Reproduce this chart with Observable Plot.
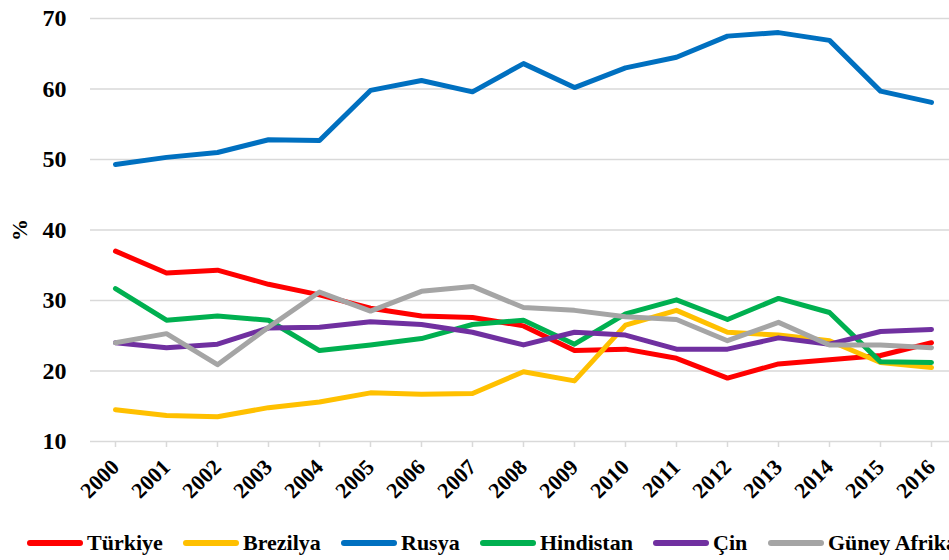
<!DOCTYPE html>
<html>
<head>
<meta charset="utf-8">
<script src="https://cdn.jsdelivr.net/npm/d3@7"></script>
<script src="https://cdn.jsdelivr.net/npm/@observablehq/plot@0.6"></script>
<style>
  html, body { margin: 0; padding: 0; background: #fff; }
  #chart { position: relative; width: 949px; height: 560px; overflow: hidden; }
  #legend { position: absolute; left: 0; top: 528px; width: 949px; height: 32px; font-family: "Liberation Serif", "DejaVu Serif", serif; font-weight: bold; font-size: 22px; color: #000; }
  .item { position: absolute; top: 0; height: 30px; display: flex; align-items: center; white-space: nowrap; }
  .sw { width: 56px; height: 6px; border-radius: 3px; margin-right: 4px; }
  svg text { font-family: "Liberation Serif", "DejaVu Serif", serif !important; }
</style>
</head>
<body>
<div id="chart"><div id="legend"></div></div>
<script>
const years = [2000, 2001, 2002, 2003, 2004, 2005, 2006, 2007, 2008, 2009, 2010, 2011, 2012, 2013, 2014, 2015, 2016];
const countries = ["Türkiye", "Brezilya", "Rusya", "Hindistan", "Çin", "Güney Afrika"];
const colors = ["#FF0000", "#FFC000", "#0070C0", "#00B050", "#7030A0", "#A5A5A5"];
const yTicks = [10, 20, 30, 40, 50, 60, 70];

const turkiye    = [37.0, 33.9, 34.3, 32.3, 30.8, 28.9, 27.8, 27.6, 26.4, 22.9, 23.1, 21.8, 19.0, 21.0, 21.6, 22.2, 24.0];
const brezilya   = [14.5, 13.7, 13.5, 14.8, 15.6, 16.9, 16.7, 16.8, 19.9, 18.6, 26.5, 28.6, 25.5, 25.1, 24.3, 21.2, 20.5];
const rusya      = [49.3, 50.3, 51.0, 52.8, 52.7, 59.8, 61.2, 59.6, 63.6, 60.2, 63.0, 64.5, 67.5, 68.0, 66.9, 59.7, 58.1];
const hindistan  = [31.7, 27.2, 27.8, 27.2, 22.9, 23.7, 24.6, 26.6, 27.2, 23.8, 28.1, 30.1, 27.3, 30.3, 28.3, 21.3, 21.2];
const cin        = [24.0, 23.3, 23.8, 26.1, 26.2, 27.0, 26.6, 25.5, 23.7, 25.5, 25.1, 23.1, 23.1, 24.7, 23.8, 25.6, 25.9];
const guneyAfrika= [24.0, 25.3, 20.9, 26.2, 31.2, 28.5, 31.3, 32.0, 29.0, 28.6, 27.7, 27.3, 24.3, 26.9, 23.7, 23.7, 23.3];

const series = [turkiye, brezilya, rusya, hindistan, cin, guneyAfrika];
const data = [];
countries.forEach((c, i) => years.forEach((y, j) => data.push({country: c, year: y, value: series[i][j]})));

const font = '"Liberation Serif", "DejaVu Serif", serif';

const chart = Plot.plot({
  width: 949,
  height: 528,
  marginLeft: 90,
  marginRight: 0,
  marginTop: 18,
  marginBottom: 87,
  style: { fontFamily: font, fontWeight: "bold", background: "transparent", overflow: "visible" },
  x: { type: "linear", domain: [1999.51, 2016.353] },
  y: { domain: [10, 70] },
  color: { domain: countries, range: colors },
  marks: [
    Plot.gridY(yTicks, { stroke: "#d9d9d9", strokeOpacity: 1, strokeWidth: 1.5 }),
    Plot.axisY(yTicks, {
      tickSize: 0, tickPadding: 24, fontSize: 24, fill: "#000",
      label: "%", labelAnchor: "center", labelArrow: "none", labelOffset: 79
    }),
    Plot.axisX(years, {
      tickSize: 6, tickPadding: 16, stroke: "#d9d9d9", strokeWidth: 1.5, fill: "#000",
      tickRotate: -45, fontSize: 22, tickFormat: d => String(d), label: null
    }),
    Plot.line(data, {
      x: "year", y: "value", z: "country", stroke: "country",
      strokeWidth: 5, strokeLinecap: "round", strokeLinejoin: "round"
    })
  ]
});
chart.style.position = "absolute";
chart.style.left = "0";
chart.style.top = "0";
document.getElementById("chart").prepend(chart);

chart.querySelectorAll("text").forEach(t => {
  if (t.textContent === "%") t.setAttribute("font-size", "22");
});

const legendLefts = [27, 183, 341, 480, 653, 768];
const legend = document.getElementById("legend");
countries.forEach((c, i) => {
  const item = document.createElement("div");
  item.className = "item";
  item.style.left = legendLefts[i] + "px";
  const sw = document.createElement("span");
  sw.className = "sw";
  sw.style.background = colors[i];
  const label = document.createElement("span");
  label.textContent = c;
  item.appendChild(sw);
  item.appendChild(label);
  legend.appendChild(item);
});
</script>
</body>
</html>
